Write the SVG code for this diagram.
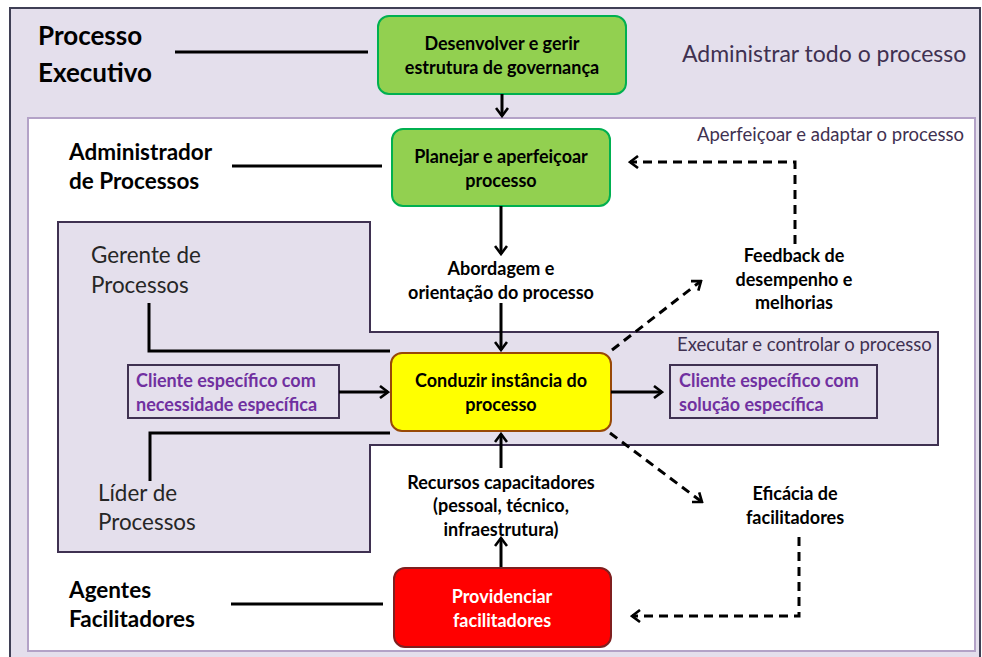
<svg xmlns="http://www.w3.org/2000/svg" width="982" height="657" viewBox="0 0 982 657">
  <defs>
    <style>
      .node-text { font-family: Lato, "Liberation Sans", sans-serif; font-weight: bold; font-size: 18px; fill: #000; text-anchor: middle; }
      .role { font-family: Lato, "Liberation Sans", sans-serif; font-weight: bold; font-size: 22.5px; fill: #000; }
      .role-big { font-family: Lato, "Liberation Sans", sans-serif; font-weight: bold; font-size: 26px; fill: #000; }
      .role-light { font-family: Lato, "Liberation Sans", sans-serif; font-size: 22.4px; fill: #262626; }
      .stage { font-family: Lato, "Liberation Sans", sans-serif; font-size: 18.5px; fill: #3F3151; }
      .title { font-family: Lato, "Liberation Sans", sans-serif; font-size: 23px; fill: #3F3151; }
      .client { font-family: Lato, "Liberation Sans", sans-serif; font-weight: bold; font-size: 18px; fill: #7030A0; }
      .solid { fill: none; stroke: #000; stroke-width: 3; }
      .dash { fill: none; stroke: #000; stroke-width: 3; stroke-dasharray: 9 6; }
      .green { fill: #92D050; stroke: #00B050; stroke-width: 2; }
      .client-box { fill: #E4DFEC; stroke: #3F3151; stroke-width: 2; }
    </style>
    <marker id="arrow" viewBox="0 0 12 14" refX="10" refY="7" markerWidth="12" markerHeight="14" markerUnits="userSpaceOnUse" orient="auto">
      <path d="M2,1 L10,7 L2,13" fill="none" stroke="#000" stroke-width="2.6"/>
    </marker>
  </defs>

  <!-- background frames -->
  <rect x="0" y="0" width="982" height="657" fill="#FFFFFF"/>
  <rect x="10" y="8" width="970" height="660" fill="#E4DFEC" stroke="#3F3F55" stroke-width="2"/>
  <rect x="28" y="118" width="947" height="533" fill="#FFFFFF" stroke="#B3A2C7" stroke-width="2"/>
  <polygon points="58,222 370,222 370,332 938,332 938,445 370,445 370,552 58,552" fill="#E4DFEC" stroke="#3F3151" stroke-width="2"/>

  <!-- stage labels -->
  <text class="title" x="682" y="62">Administrar todo o processo</text>
  <text class="stage" x="697" y="141">Aperfeiçoar e adaptar o processo</text>
  <text class="stage" x="677" y="351">Executar e controlar o processo</text>

  <!-- role labels -->
  <g id="processo-executivo">
    <text class="role-big" x="38" y="45">Processo</text>
    <text class="role-big" x="38" y="82">Executivo</text>
  </g>
  <g id="administrador">
    <text class="role" x="69" y="160">Administrador</text>
    <text class="role" x="69" y="189">de Processos</text>
  </g>
  <g id="gerente">
    <text class="role-light" x="91" y="263">Gerente de</text>
    <text class="role-light" x="91" y="293">Processos</text>
  </g>
  <g id="lider">
    <text class="role-light" x="98" y="501">Líder de</text>
    <text class="role-light" x="98" y="530">Processos</text>
  </g>
  <g id="agentes">
    <text class="role" x="69" y="598">Agentes</text>
    <text class="role" x="69" y="627">Facilitadores</text>
  </g>

  <!-- nodes -->
  <g id="desenvolver">
    <rect class="green" x="378" y="16" width="248" height="78" rx="11"/>
    <text class="node-text" x="502" y="50">Desenvolver e gerir</text>
    <text class="node-text" x="502" y="74">estrutura de governança</text>
  </g>
  <g id="planejar">
    <rect class="green" x="392" y="129" width="218" height="77" rx="11"/>
    <text class="node-text" x="501" y="163">Planejar e aperfeiçoar</text>
    <text class="node-text" x="501" y="187">processo</text>
  </g>
  <g id="conduzir">
    <rect x="391" y="353" width="220" height="78" rx="11" fill="#FFFF00" stroke="#984807" stroke-width="2"/>
    <text class="node-text" x="501" y="387">Conduzir instância do</text>
    <text class="node-text" x="501" y="411">processo</text>
  </g>
  <g id="providenciar">
    <rect x="394" y="568" width="217" height="79" rx="11" fill="#FF0000" stroke="#7F1F1F" stroke-width="2"/>
    <text class="node-text" x="502" y="603" style="fill:#FFFFFF">Providenciar</text>
    <text class="node-text" x="502" y="627" style="fill:#FFFFFF">facilitadores</text>
  </g>
  <g id="cliente-necessidade">
    <rect class="client-box" x="128" y="365" width="211" height="53"/>
    <text class="client" x="136" y="387">Cliente específico com</text>
    <text class="client" x="136" y="411">necessidade específica</text>
  </g>
  <g id="cliente-solucao">
    <rect class="client-box" x="670" y="365" width="207" height="53"/>
    <text class="client" x="679" y="387">Cliente específico com</text>
    <text class="client" x="679" y="411">solução específica</text>
  </g>

  <!-- connector labels -->
  <g id="labels">
    <text class="node-text" x="501" y="275">Abordagem e</text>
    <text class="node-text" x="501" y="299">orientação do processo</text>
    <text class="node-text" x="501" y="489">Recursos capacitadores</text>
    <text class="node-text" x="501" y="512">(pessoal, técnico,</text>
    <text class="node-text" x="501" y="536">infraestrutura)</text>
    <text class="node-text" x="794" y="262">Feedback de</text>
    <text class="node-text" x="794" y="286">desempenho e</text>
    <text class="node-text" x="794" y="309">melhorias</text>
    <text class="node-text" x="795" y="500">Eficácia de</text>
    <text class="node-text" x="795" y="524">facilitadores</text>
  </g>

  <!-- connectors -->
  <g id="connectors">
    <line class="solid" x1="175" y1="52" x2="368" y2="52"/>
    <line class="solid" x1="232" y1="166" x2="382" y2="166"/>
    <line class="solid" x1="231" y1="604" x2="383" y2="604"/>
    <polyline class="solid" points="149,303 149,351 390,351"/>
    <polyline class="solid" points="390,433 150,433 150,481"/>

    <line class="solid" x1="502" y1="94" x2="502" y2="116" marker-end="url(#arrow)"/>
    <line class="solid" x1="501" y1="206" x2="501" y2="254" marker-end="url(#arrow)"/>
    <line class="solid" x1="501" y1="303" x2="501" y2="350" marker-end="url(#arrow)"/>
    <line class="solid" x1="501" y1="468" x2="501" y2="434" marker-end="url(#arrow)"/>
    <line class="solid" x1="501" y1="567" x2="501" y2="538" marker-end="url(#arrow)"/>
    <line class="solid" x1="339" y1="392" x2="388" y2="392" marker-end="url(#arrow)"/>
    <line class="solid" x1="611" y1="392" x2="662" y2="392" marker-end="url(#arrow)"/>

    <line class="dash" x1="612" y1="350" x2="701" y2="281" marker-end="url(#arrow)"/>
    <line class="dash" x1="610" y1="433" x2="702" y2="502" marker-end="url(#arrow)"/>
    <polyline class="dash" points="795,244 795,162 630,162" marker-end="url(#arrow)"/>
    <polyline class="dash" points="799,537 799,616 632,616" marker-end="url(#arrow)"/>
  </g>
</svg>
